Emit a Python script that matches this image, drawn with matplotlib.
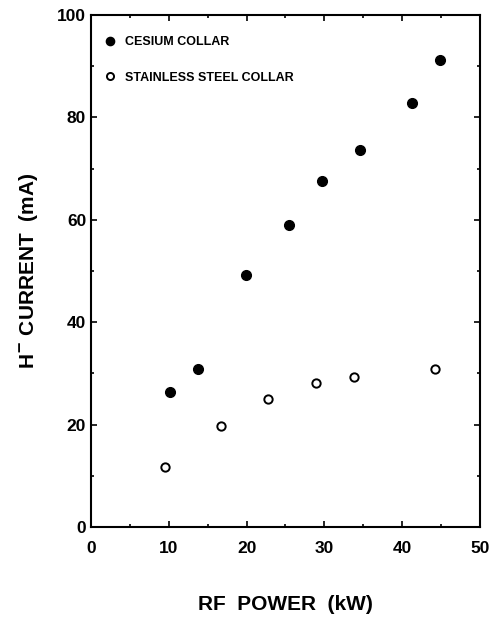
import matplotlib
matplotlib.use("Agg")
import matplotlib.pyplot as plt
from matplotlib.ticker import MultipleLocator

# Cesium collar data (RF power kW, H- current mA)
cs_power = [10.2, 13.8, 19.9, 25.4, 29.7, 34.6, 41.3, 44.9]
cs_current = [26.4, 30.9, 49.2, 59.0, 67.6, 73.6, 82.8, 91.2]

# Stainless steel collar data
ss_power = [9.5, 16.7, 22.8, 28.9, 33.8, 44.2]
ss_current = [11.7, 19.7, 25.0, 28.1, 29.3, 30.9]

x_ticks = [0, 10, 20, 30, 40, 50]
y_ticks = [0, 20, 40, 60, 80, 100]

plt.rcParams['font.family'] = ['Liberation Sans', 'DejaVu Sans']
plt.rcParams['font.weight'] = 'bold'

fig = plt.figure(figsize=(4.9, 6.18), dpi=100)
ax = fig.add_axes([0.1857, 0.1472, 0.7939, 0.8285])

ax.plot(cs_power, cs_current, 'o', color='black', markersize=7,
        label='CESIUM COLLAR')
ax.plot(ss_power, ss_current, 'o', markerfacecolor='white',
        markeredgecolor='black', markeredgewidth=1.4, markersize=6,
        label='STAINLESS STEEL COLLAR')

ax.set_xlim(0, 50)
ax.set_ylim(0, 100)
ax.set_xticks(x_ticks)
ax.set_yticks(y_ticks)
ax.xaxis.set_minor_locator(MultipleLocator(5))
ax.yaxis.set_minor_locator(MultipleLocator(10))
ax.tick_params(which='both', direction='in', top=True, right=True,
               labelsize=12.5, width=1.2)
ax.tick_params(which='major', length=4)
ax.tick_params(which='minor', length=2.5)
ax.tick_params(axis='x', pad=10)
for s in ax.spines.values():
    s.set_linewidth(1.5)

ax.set_xlabel('RF  POWER  (kW)', fontsize=15, fontweight='bold', labelpad=28)
ax.set_ylabel('H$^{-}$ CURRENT  (mA)', fontsize=15, fontweight='bold',
              labelpad=12)

leg = ax.legend(loc='upper left', bbox_to_anchor=(0.02, 0.969),
                frameon=False, fontsize=9, handletextpad=0.7,
                labelspacing=1.9, handlelength=1.0, borderaxespad=0,
                markerscale=0.85)
for t in leg.get_texts():
    t.set_fontweight('bold')

fig.savefig('out.png', dpi=100)
